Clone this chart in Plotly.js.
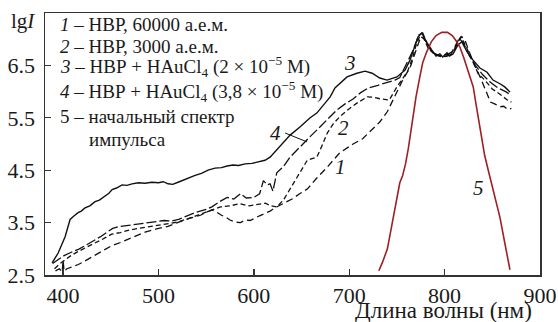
<!DOCTYPE html>
<html>
<head>
<meta charset="utf-8">
<script src="https://cdn.plot.ly/plotly-3.0.1.min.js"></script>
<style>html,body{margin:0;padding:0;background:#fff;}#chart{width:558px;height:322px;}</style>
</head>
<body>
<div id="chart"></div>
<script>
// Curve 1 – НВР, 60000 а.е.м. (dashed, lowest)
const wl1 = [392,396,399,400,401,404,410,416,424,432,
             440,451,460,470,478,486,498,510,520,532,
             544,550,556,561,566,570,575,580,586,591,
             596,601,606,612,617,622,630,640,648,656,
             666,677,690,704,714,722,732,740,746,756,
             764,770,775,779,785,792,800,808,814,818,
             822,826,832,838,844,848,853,858,862,866,
             870];
const lg1 = [2.58,2.62,2.56,2.78,2.57,2.62,2.66,2.70,2.78,2.86,
             2.94,3.06,3.12,3.20,3.26,3.32,3.38,3.43,3.50,3.58,
             3.64,3.70,3.74,3.70,3.64,3.61,3.55,3.51,3.50,3.55,
             3.54,3.59,3.63,3.68,3.72,3.78,3.85,3.95,4.05,4.14,
             4.35,4.56,4.83,5.00,5.10,5.25,5.42,5.62,5.84,6.22,
             6.47,6.80,7.05,7.00,6.80,6.70,6.66,6.72,6.95,7.05,
             6.95,6.75,6.48,6.25,5.98,5.80,5.76,5.71,5.72,5.66,
             5.68];
// Curve 2 – НВР, 3000 а.е.м.
const wl2 = [391,397,403,409,416,424,432,440,451,460,
             470,486,498,510,520,532,544,556,565,575,
             585,595,603,612,618,624,631,638,645,651,
             656,661,666,671,677,683,690,699,708,719,
             726,733,742,750,756,761,766,770,774,778,
             783,790,798,806,812,817,822,828,835,842,
             850,858,865,870];
const lg2 = [2.62,2.72,2.80,2.88,2.95,3.03,3.10,3.17,3.28,3.31,
             3.36,3.41,3.45,3.48,3.51,3.58,3.66,3.75,3.80,3.82,
             3.86,3.82,3.84,3.87,3.82,3.80,3.93,4.15,4.37,4.55,
             4.69,4.72,4.75,4.95,5.21,5.38,5.52,5.66,5.78,5.90,
             5.89,5.86,5.84,6.09,6.25,6.38,6.62,6.88,7.06,7.02,
             6.82,6.70,6.66,6.70,6.90,7.05,6.88,6.62,6.35,6.22,
             6.05,5.95,5.85,5.80];
// Curve 3 – НВР + HAuCl4 (2×10^-5 М), solid
const wl3 = [388.5,394.8,402.1,407.3,411,415.7,419,423,428,433.5,
             438,444,448,451.4,456,461.8,467,472.3,479,486,
             493,500,505,510,515,520.5,528,538.4,545,552,
             559.3,566,572,578,584,590.8,598,606.5,611.7,617,
             624,630.6,638,648,659,666,674.6,680,685,690,
             697.7,708,716.6,724,732,739.6,750,758.5,763.7,768,
             772,776,781.6,787.8,791,795,798,802.5,805,808.8,
             814,818,823.6,829.8,837,844.5,850.7,858,863,868.6];
const lg3 = [2.73,2.92,3.23,3.56,3.62,3.69,3.72,3.78,3.82,3.90,
             3.93,4.00,4.06,4.13,4.16,4.22,4.21,4.24,4.26,4.25,
             4.27,4.26,4.28,4.24,4.23,4.27,4.33,4.40,4.44,4.50,
             4.54,4.55,4.58,4.60,4.59,4.62,4.63,4.66,4.69,4.75,
             4.89,5.02,5.17,5.32,5.50,5.59,5.78,5.90,6.07,6.16,
             6.28,6.35,6.39,6.35,6.26,6.22,6.28,6.41,6.60,6.83,
             7.04,7.12,6.93,6.76,6.68,6.72,6.66,6.74,6.68,6.72,
             6.89,6.95,6.76,6.60,6.45,6.37,6.22,6.15,6.09,5.99];
// Curve 4 – НВР + HAuCl4 (3,8×10^-5 М)
const wl4 = [389,395,401,408,416,424,432,440,447,452,
             458,466,474,486,496,506,514,521,530,540,
             550,556,564,572,579,586,592,600,606,610,
             614,617,620,624,631,638,645,652,660,669,
             678,687,696,704,712,720,730,740,748,753,
             760,767,773,777,782,788,795,803,810,815,
             820,826,833,840,848,856,864,870];
const lg4 = [2.72,2.80,2.87,2.93,2.99,3.07,3.15,3.24,3.33,3.39,
             3.42,3.44,3.47,3.50,3.52,3.54,3.53,3.56,3.63,3.70,
             3.75,3.80,3.90,3.98,3.95,4.05,3.97,3.98,4.05,4.30,
             4.22,4.24,4.10,4.45,4.57,4.75,4.88,5.02,5.16,5.32,
             5.49,5.65,5.77,5.86,5.98,6.07,6.12,6.17,6.22,6.27,
             6.52,6.79,7.08,7.12,6.90,6.74,6.68,6.71,6.78,7.02,
             6.92,6.68,6.48,6.32,6.18,6.07,6.00,5.93];
// Curve 5 – начальный спектр импульса (red)
const wl5 = [731,735,740,744,748,753,756,759,762,766,
             770,774,777,781,786,791,797,803,808,812,
             816,820,825,830,833,836,839,842,846,851,
             855,858,863,868.5];
const lg5 = [2.58,2.75,3.00,3.40,3.82,4.26,4.40,4.62,4.92,5.40,
             5.90,6.28,6.55,6.75,6.95,7.07,7.13,7.13,7.07,6.97,
             6.85,6.65,6.38,6.09,5.75,5.40,5.05,4.78,4.48,4.12,
             3.85,3.60,3.12,2.60];

const xTicks = [400,500,600,700,800,900];
const yTicks = [2.5,3.5,4.5,5.5,6.5];
const legendLines = [
  '<i>1</i> – НВР, 60000 а.е.м.',
  '<i>2</i> – НВР, 3000 а.е.м.',
  '<i>3</i> – НВР + HAuCl<sub>4</sub> (2 × 10<sup>−5</sup> М)',
  '<i>4</i> – НВР + HAuCl<sub>4</sub> (3,8 × 10<sup>−5</sup> М)',
  '5 – начальный спектр',
  'импульса'
];
const legendY = [7.28, 6.87, 6.48, 6.00, 5.52, 5.09];
const legendX = [394.8, 394.8, 394.8, 394.8, 394.8, 425.2];

const serif = 'Liberation Serif';
const black = '#111';

const traces = [
  {x: wl1, y: lg1, mode: 'lines', line: {color: black, width: 1.3, dash: '7px,4px'}},
  {x: wl2, y: lg2, mode: 'lines', line: {color: black, width: 1.3, dash: '5px,3px'}},
  {x: wl3, y: lg3, mode: 'lines', line: {color: black, width: 1.4}},
  {x: wl4, y: lg4, mode: 'lines', line: {color: black, width: 1.3, dash: '10px,3px'}},
  {x: wl5, y: lg5, mode: 'lines', line: {color: '#9e2024', width: 1.6}}
];

const annotations = legendLines.map((t, i) => ({
  text: t, x: legendX[i], y: legendY[i], xref: 'x', yref: 'y',
  xanchor: 'left', yanchor: 'middle', showarrow: false,
  font: {family: serif, size: 19, color: '#1a1a1a'}
}));
const curveLabels = [
  {t: '3', x: 700.8, y: 6.55},
  {t: '4', x: 623, y: 5.21},
  {t: '2', x: 693.5, y: 5.31},
  {t: '1', x: 690.4, y: 4.56},
  {t: '5', x: 835, y: 4.16}
];
curveLabels.forEach(c => annotations.push({
  text: '<i>' + c.t + '</i>', x: c.x, y: c.y, xref: 'x', yref: 'y',
  showarrow: false, font: {family: serif, size: 21, color: '#1a1a1a'}
}));
annotations.push({
  text: 'lg<i>I</i>', xref: 'paper', yref: 'paper', x: -0.016, y: 0.97,
  xanchor: 'right', yanchor: 'middle', showarrow: false,
  font: {family: serif, size: 21, color: '#1a1a1a'}
});
annotations.push({
  text: 'Длина волны (нм)', xref: 'paper', yref: 'paper', x: 0.987, y: -0.1336,
  xanchor: 'right', yanchor: 'middle', showarrow: false,
  font: {family: serif, size: 23, color: '#1a1a1a'}
});

const layout = {
  width: 558, height: 322,
  margin: {l: 45, r: 18, t: 13, b: 47},
  paper_bgcolor: '#fff', plot_bgcolor: '#fff',
  showlegend: false,
  xaxis: {
    range: [381, 900], tickvals: xTicks, ticks: 'inside', ticklen: 6, tickwidth: 1.3,
    tickcolor: '#333', showline: true, mirror: true, linecolor: '#333', linewidth: 1.5,
    showgrid: false, zeroline: false,
    tickfont: {family: serif, size: 22, color: '#1a1a1a'}
  },
  yaxis: {
    range: [2.5, 7.5], tickvals: yTicks, ticktext: yTicks.map(v => v.toFixed(1)),
    ticks: 'inside', ticklen: 6, tickwidth: 1.3, tickcolor: '#333',
    showline: true, mirror: true, linecolor: '#333', linewidth: 1.5,
    showgrid: false, zeroline: false, ticklabelstandoff: 4,
    tickfont: {family: serif, size: 22, color: '#1a1a1a'}
  },
  annotations: annotations,
  shapes: [{type: 'line', xref: 'x', yref: 'y', x0: 632.7, y0: 5.21, x1: 655.8, y1: 5.04,
            line: {color: black, width: 1}}]
};

Plotly.newPlot('chart', traces, layout, {displayModeBar: false, staticPlot: true});
</script>
</body>
</html>
